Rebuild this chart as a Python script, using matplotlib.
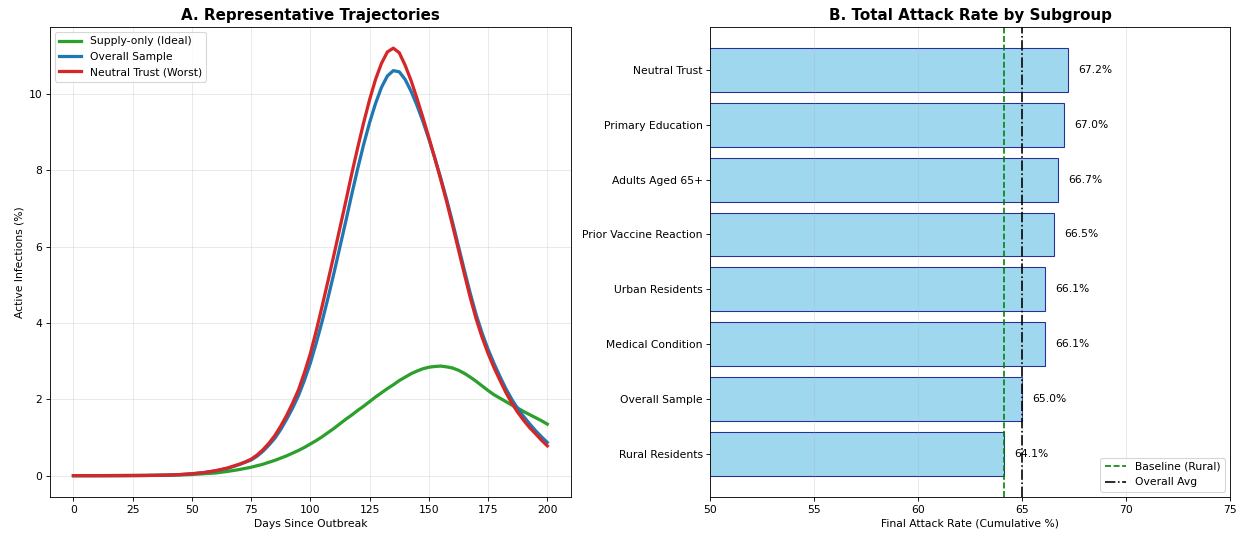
import matplotlib
matplotlib.use("Agg")
import matplotlib.pyplot as plt

# ---- Panel A data ----
days = [0, 5, 10, 15, 20, 25, 30, 35, 40, 45, 50, 55, 60, 65, 70, 72.5,
        75, 77.5, 80, 82.5, 85, 87.5, 90, 92.5, 95, 97.5,
        100, 102.5, 105, 107.5, 110, 112.5, 115, 117.5, 120, 122.5,
        125, 127.5, 130, 132.5, 135, 137.5, 140, 142.5, 145, 147.5,
        150, 152.5, 155, 157.5, 160, 162.5, 165, 167.5, 170, 172.5,
        175, 177.5, 180, 182.5, 185, 187.5, 190, 192.5, 195, 197.5, 200]
supply_only = [0.0, 0.0, 0.0, 0.001, 0.002, 0.003, 0.004, 0.007, 0.01, 0.018, 0.03, 0.05,
               0.07, 0.11, 0.16, 0.19,
               0.22, 0.26, 0.30, 0.35, 0.40, 0.46, 0.52, 0.59, 0.66, 0.74,
               0.83, 0.92, 1.02, 1.13, 1.24, 1.36, 1.48, 1.59, 1.71, 1.82,
               1.94, 2.06, 2.17, 2.28, 2.38, 2.49, 2.58, 2.67, 2.74, 2.80,
               2.84, 2.86, 2.87, 2.85, 2.82, 2.76, 2.68, 2.58, 2.47, 2.35,
               2.23, 2.12, 2.03, 1.94, 1.85, 1.77, 1.68, 1.60, 1.52, 1.44, 1.35]
overall = [0.0, 0.0, 0.0, 0.001, 0.002, 0.003, 0.005, 0.009, 0.015, 0.027, 0.048, 0.078,
           0.125, 0.19, 0.29, 0.35,
           0.41, 0.51, 0.64, 0.80, 0.98, 1.21, 1.48, 1.77, 2.10, 2.50,
           2.95, 3.48, 4.05, 4.67, 5.32, 6.00, 6.68, 7.38, 8.05, 8.68,
           9.25, 9.75, 10.17, 10.47, 10.61, 10.58, 10.38, 10.07, 9.70, 9.28,
           8.82, 8.32, 7.80, 7.24, 6.64, 6.01, 5.38, 4.77, 4.21, 3.73,
           3.31, 2.94, 2.60, 2.28, 2.00, 1.76, 1.55, 1.36, 1.18, 1.02, 0.87]
neutral = [0.0, 0.0, 0.0, 0.001, 0.002, 0.003, 0.005, 0.009, 0.016, 0.028, 0.05, 0.08,
           0.13, 0.20, 0.30, 0.36,
           0.43, 0.54, 0.68, 0.85, 1.05, 1.30, 1.58, 1.90, 2.25, 2.70,
           3.20, 3.80, 4.45, 5.12, 5.80, 6.50, 7.20, 7.92, 8.60, 9.25,
           9.85, 10.38, 10.80, 11.10, 11.20, 11.08, 10.75, 10.35, 9.88, 9.38,
           8.86, 8.32, 7.76, 7.18, 6.56, 5.92, 5.28, 4.66, 4.10, 3.62,
           3.20, 2.83, 2.50, 2.18, 1.90, 1.66, 1.45, 1.26, 1.10, 0.93, 0.78]

# ---- Panel B data ----
groups = ["Rural Residents", "Overall Sample", "Medical Condition", "Urban Residents",
          "Prior Vaccine Reaction", "Adults Aged 65+", "Primary Education", "Neutral Trust"]
attack_rates = [64.1, 65.0, 66.1, 66.1, 66.5, 66.7, 67.0, 67.2]
baseline_rural = 64.1
overall_avg = 65.0
x_ticks = [50, 55, 60, 65, 70, 75]

fig = plt.figure(figsize=(16, 535 / 77.75), dpi=77.75)
ax1 = fig.add_axes([0.040, 0.071, 0.419, 0.879])
ax2 = fig.add_axes([0.571, 0.071, 0.418, 0.879])

ax1.plot(days, supply_only, color="#2ca02c", lw=3, label="Supply-only (Ideal)")
ax1.plot(days, overall, color="#1f77b4", lw=3, label="Overall Sample")
ax1.plot(days, neutral, color="#d62728", lw=3, label="Neutral Trust (Worst)")
ax1.set_title("A. Representative Trajectories", fontsize=14, fontweight="bold")
ax1.set_xlabel("Days Since Outbreak", fontsize=10)
ax1.set_ylabel("Active Infections (%)", fontsize=10)
ax1.set_xticks([0, 25, 50, 75, 100, 125, 150, 175, 200])
ax1.grid(True, alpha=0.3)
ax1.legend(loc="upper left", fontsize=10)
ax1.tick_params(labelsize=10)

ypos = range(len(groups))
ax2.barh(ypos, attack_rates, color="skyblue", edgecolor="navy", alpha=0.8, height=0.8)
for y, v in zip(ypos, attack_rates):
    ax2.text(v + 0.5, y, f"{v:.1f}%", va="center", fontsize=10)
ax2.axvline(baseline_rural, color="green", ls="--", lw=1.5, label="Baseline (Rural)")
ax2.axvline(overall_avg, color="black", ls="-.", lw=1.5, label="Overall Avg")
ax2.set_yticks(list(ypos))
ax2.set_yticklabels(groups)
ax2.set_xlim(50, 75)
ax2.set_xticks(x_ticks)
ax2.set_xlabel("Final Attack Rate (Cumulative %)", fontsize=10)
ax2.set_title("B. Total Attack Rate by Subgroup", fontsize=14, fontweight="bold")
ax2.grid(axis="x", alpha=0.3)
ax2.legend(loc="lower right", fontsize=10)
ax2.tick_params(labelsize=10)

fig.savefig("out.png", dpi=77.75)
